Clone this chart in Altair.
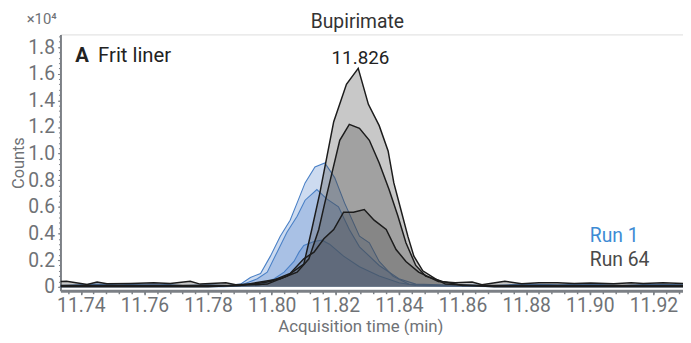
import altair as alt
import pandas as pd

# ---------------- data (counts in units of 10^4) ----------------
# Run 1 (blue) replicate traces
run1_a_t = [11.7336, 11.7450, 11.7520, 11.7600, 11.7650, 11.7720, 11.7800, 11.7860,
            11.7902, 11.7933, 11.7965, 11.7996, 11.8027, 11.8058, 11.8080, 11.8105,
            11.8136, 11.8167, 11.8198, 11.8229, 11.8276, 11.8307, 11.8338, 11.8381,
            11.8431, 11.8500, 11.8600, 11.8700, 11.8800, 11.8900, 11.9000, 11.9100,
            11.9200, 11.9293]
run1_a_v = [0.010, 0.020, 0.015, 0.020, 0.020, 0.010, 0.015, 0.010,
            0.020, 0.070, 0.100, 0.230, 0.380, 0.500, 0.630, 0.780,
            0.900, 0.930, 0.820, 0.630, 0.380, 0.330, 0.190, 0.080,
            0.020, 0.010, 0.015, 0.010, 0.020, 0.015, 0.020, 0.010,
            0.020, 0.015]

run1_b_t = [11.7336, 11.7550, 11.7750, 11.7900, 11.7955, 11.7986, 11.8017, 11.8048,
            11.8080, 11.8105, 11.8142, 11.8173, 11.8210, 11.8244, 11.8276, 11.8338,
            11.8400, 11.8453, 11.8600, 11.8800, 11.9000, 11.9293]
run1_b_v = [0.005, 0.010, 0.005, 0.010, 0.060, 0.110, 0.260, 0.410,
            0.530, 0.650, 0.730, 0.660, 0.600, 0.430, 0.300, 0.160,
            0.060, 0.020, 0.010, 0.005, 0.010, 0.005]

run1_c_t = [11.7336, 11.7600, 11.7850, 11.7960, 11.8008, 11.8039, 11.8070, 11.8086,
            11.8101, 11.8133, 11.8158, 11.8182, 11.8226, 11.8276, 11.8338, 11.8400,
            11.8453, 11.8700, 11.9000, 11.9293]
run1_c_v = [0.000, 0.000, 0.000, 0.010, 0.060, 0.110, 0.190, 0.260,
            0.310, 0.340, 0.350, 0.320, 0.230, 0.150, 0.080, 0.030,
            0.010, 0.000, 0.000, 0.000]

# Run 64 (black) replicate traces
run64_a_t = [11.7336, 11.7600, 11.7800, 11.7986, 11.8048, 11.8101, 11.8126, 11.8151,
             11.8173, 11.8195, 11.8235, 11.8272, 11.8304, 11.8338, 11.8366, 11.8384,
             11.8406, 11.8428, 11.8447, 11.8475, 11.8515, 11.8546, 11.8700, 11.9000,
             11.9293]
run64_a_v = [0.000, 0.000, 0.000, 0.020, 0.080, 0.170, 0.430, 0.700,
             0.970, 1.240, 1.520, 1.640, 1.370, 1.210, 1.020, 0.780,
             0.580, 0.380, 0.230, 0.120, 0.060, 0.020, 0.000, 0.000,
             0.000]

run64_b_t = [11.7336, 11.7700, 11.7900, 11.8027, 11.8080, 11.8117, 11.8148, 11.8167,
             11.8189, 11.8214, 11.8244, 11.8276, 11.8307, 11.8338, 11.8369, 11.8397,
             11.8422, 11.8453, 11.8484, 11.8537, 11.8600, 11.8900, 11.9293]
run64_b_v = [0.010, 0.010, 0.010, 0.060, 0.110, 0.210, 0.430, 0.630,
             0.850, 1.100, 1.220, 1.190, 1.100, 0.930, 0.730, 0.530,
             0.330, 0.160, 0.080, 0.040, 0.010, 0.010, 0.010]

run64_c_t = [11.7336, 11.7355, 11.7420, 11.7451, 11.7482, 11.7557, 11.7629, 11.7681,
             11.7744, 11.7775, 11.7856, 11.7887, 11.7940, 11.7996, 11.8058, 11.8101,
             11.8133, 11.8164, 11.8195, 11.8226, 11.8257, 11.8291, 11.8322, 11.8360,
             11.8391, 11.8422, 11.8462, 11.8524, 11.8577, 11.8630, 11.8661, 11.8733,
             11.8786, 11.8840, 11.8898, 11.8951, 11.9003, 11.9075, 11.9130, 11.9168,
             11.9230, 11.9293]
run64_c_v = [0.040, 0.042, 0.017, 0.035, 0.022, 0.025, 0.030, 0.025,
             0.042, 0.020, 0.030, 0.015, 0.020, 0.040, 0.100, 0.210,
             0.260, 0.360, 0.430, 0.560, 0.560, 0.580, 0.500, 0.430,
             0.280, 0.190, 0.110, 0.040, 0.030, 0.035, 0.015, 0.042,
             0.022, 0.030, 0.030, 0.025, 0.028, 0.022, 0.030, 0.025,
             0.030, 0.025]

x_ticks = [11.74, 11.76, 11.78, 11.80, 11.82, 11.84, 11.86, 11.88, 11.90, 11.92]
y_ticks = [0, 0.2, 0.4, 0.6, 0.8, 1.0, 1.2, 1.4, 1.6, 1.8]

ann_text = ["11.826", "Run 1", "Run 64"]
ann_x = [11.8279, 11.9000, 11.9000]
ann_y = [1.72, 0.38, 0.20]

# ---------------- build table ----------------
rows = []
for name, grp, ts, vs in [
    ("r1a", "Run 1", run1_a_t, run1_a_v),
    ("r1b", "Run 1", run1_b_t, run1_b_v),
    ("r1c", "Run 1", run1_c_t, run1_c_v),
    ("r64a", "Run 64", run64_a_t, run64_a_v),
    ("r64b", "Run 64", run64_b_t, run64_b_v),
    ("r64c", "Run 64", run64_c_t, run64_c_v),
]:
    for t, v in zip(ts, vs):
        rows.append({"trace": name, "group": grp, "t": t, "v": v})
df = pd.DataFrame(rows)
ann = pd.DataFrame({"label": ann_text, "t": ann_x, "v": ann_y})

W, H = 629, 259
FONT = "Roboto"
GRAY = "#6f7276"
AX = "#7c8086"
BLUE_LINE = "#4a80c6"
BLUE_FILL = "#4a7fc8"
BLACK = "#1c1c1c"
GREY_FILL = "#4a4a4a"

xs = alt.Scale(domain=[11.7336, 11.9293], nice=False, zero=False)
ys = alt.Scale(domain=[-0.03, 1.895], nice=False, zero=False)

x_axis = alt.Axis(values=x_ticks, format=".2f", labelFontSize=19.5, labelColor=GRAY,
                  labelFont=FONT, title="Acquisition time (min)", titleFont=FONT,
                  titleFontSize=17, titleColor=GRAY, titleFontWeight="normal",
                  titleX=303, titlePadding=4, domainColor=AX, domainWidth=3,
                  tickColor=AX, tickSize=4, tickWidth=1.5, labelPadding=2, grid=False,
                  orient="bottom")
y_axis = alt.Axis(values=y_ticks, labelExpr="datum.value == 0 ? '0' : format(datum.value, '.1f')",
                  labelFontSize=19.5, labelColor=GRAY, labelFont=FONT, title="Counts",
                  titleFont=FONT, titleFontSize=16.5, titleColor=GRAY,
                  titleFontWeight="normal", titlePadding=1, domainColor=AX,
                  domainWidth=2, tickColor=AX, tickSize=3, labelPadding=3,
                  grid=False, orient="left")

minor_x = [round(11.736 + 0.004 * i, 4) for i in range(49)]
minor_y = [round(0.04 * i, 3) for i in range(48)]
x_minor = alt.Axis(values=minor_x, labels=False, title=None, domain=False, tickSize=3,
                   tickColor=AX, tickWidth=1.5, grid=False, orient="bottom")
y_minor = alt.Axis(values=minor_y, labels=False, title=None, domain=False, tickSize=2,
                   tickColor=AX, tickWidth=1, grid=False, orient="left")

base = alt.Chart(df)
blue = base.transform_filter(alt.datum.group == "Run 1")
black = base.transform_filter(alt.datum.group == "Run 64")

X_MAIN = alt.X("t:Q", scale=xs, axis=x_axis)
Y_MAIN = alt.Y("v:Q", scale=ys, axis=y_axis, stack=None)
X_N = alt.X("t:Q", scale=xs, axis=None)
Y_N = alt.Y("v:Q", scale=ys, axis=None, stack=None)

blue_area = blue.mark_area(color=BLUE_FILL, fillOpacity=0.28, clip=True).encode(
    x=X_MAIN, y=Y_MAIN, detail="trace:N")
blue_line = blue.mark_line(color=BLUE_LINE, strokeWidth=1.1, clip=True).encode(
    x=X_N, y=Y_N, detail="trace:N")
black_area = black.mark_area(color=GREY_FILL, fillOpacity=0.3, clip=True).encode(
    x=X_N, y=Y_N, detail="trace:N")
black_line = black.mark_line(color=BLACK, strokeWidth=1.5, clip=True).encode(
    x=X_N, y=Y_N, detail="trace:N")

minor = base.mark_point(opacity=0).encode(
    x=alt.X("t:Q", scale=xs, axis=x_minor), y=alt.Y("v:Q", scale=ys, axis=y_minor))

annc = alt.Chart(ann)
peak_lbl = annc.transform_filter(alt.datum.label == "11.826").mark_text(
    font=FONT, fontSize=19, color="#222222", align="center", baseline="middle"
).encode(x=X_N, y=Y_N, text="label:N")
run1_lbl = annc.transform_filter(alt.datum.label == "Run 1").mark_text(
    font=FONT, fontSize=19.5, color="#3d8bd4", align="left", baseline="middle"
).encode(x=X_N, y=Y_N, text="label:N")
run64_lbl = annc.transform_filter(alt.datum.label == "Run 64").mark_text(
    font=FONT, fontSize=19.5, color="#4a4a4a", align="left", baseline="middle"
).encode(x=X_N, y=Y_N, text="label:N")

one = alt.Chart(pd.DataFrame({"k": [0]}))
a_lbl = one.mark_text(text="A", font=FONT, fontSize=20.5, fontWeight="bold", color="#222222",
                      align="left", baseline="middle").encode(x=alt.value(15), y=alt.value(22))
frit_lbl = one.mark_text(text="Frit liner", font=FONT, fontSize=20.5, color="#222222",
                         align="left", baseline="middle").encode(x=alt.value(38), y=alt.value(22))
title_lbl = one.mark_text(text="Bupirimate", font=FONT, fontSize=19.5, color="#333333",
                          align="center", baseline="middle").encode(x=alt.value(300), y=alt.value(-12))
exp_lbl = one.mark_text(text="×10⁴", font=FONT, fontSize=15, color=GRAY,
                        align="center", baseline="middle").encode(x=alt.value(-19), y=alt.value(-16))

chart = alt.layer(
    blue_area, blue_line, black_area, black_line, minor,
    peak_lbl, run1_lbl, run64_lbl, a_lbl, frit_lbl, title_lbl, exp_lbl
).resolve_axis(x="independent", y="independent").properties(
    width=W, height=H, autosize=alt.AutoSizeParams(type="none"),
    padding={"left": 53, "top": 25, "right": 0, "bottom": 43}
).configure_view(stroke=None).configure(background="white")

chart.save("out.html", embed_options={"renderer": "svg", "actions": False})
